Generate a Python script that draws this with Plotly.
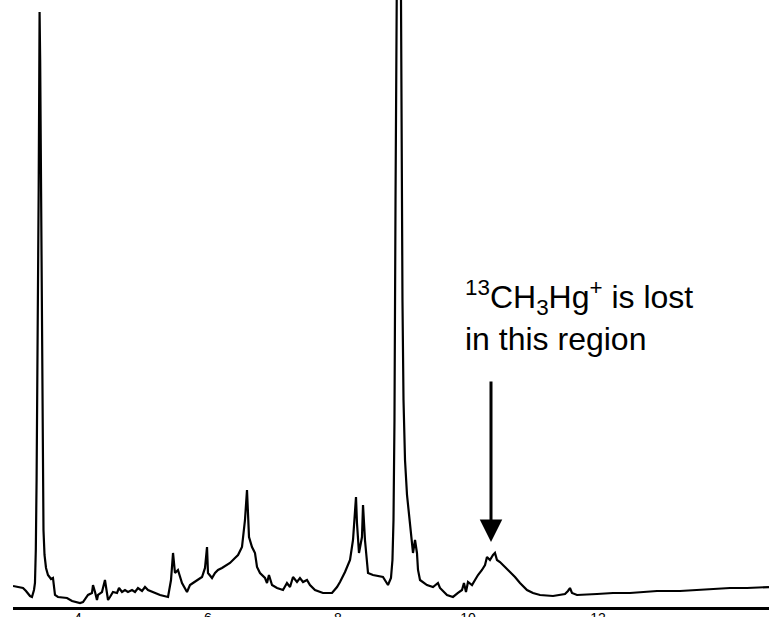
import plotly.graph_objects as go

# Retention time (min) and detector signal (arbitrary units) of the chromatogram
retention_time = [
    3.000, 3.077, 3.154, 3.200, 3.262, 3.292, 3.323, 3.338, 3.351, 3.363,
    3.375, 3.386, 3.395, 3.403, 3.409, 3.418, 3.428, 3.437, 3.446, 3.457,
    3.469, 3.485, 3.508, 3.538, 3.585, 3.615, 3.646, 3.692, 3.831, 3.908,
    4.031, 4.077, 4.123, 4.154, 4.215, 4.231, 4.262, 4.292, 4.308, 4.369,
    4.415, 4.431, 4.462, 4.492, 4.538, 4.600, 4.631, 4.677, 4.723, 4.769,
    4.831, 4.877, 4.923, 4.985, 5.031, 5.077, 5.154, 5.262, 5.385, 5.431,
    5.462, 5.492, 5.538, 5.600, 5.677, 5.723, 5.769, 5.846, 5.908, 5.954,
    5.985, 6.000, 6.062, 6.108, 6.154, 6.215, 6.292, 6.338, 6.415, 6.462,
    6.523, 6.538, 6.569, 6.600, 6.615, 6.631, 6.677, 6.723, 6.754, 6.800,
    6.877, 6.908, 6.938, 6.985, 7.062, 7.154, 7.215, 7.262, 7.308, 7.369,
    7.415, 7.462, 7.523, 7.569, 7.646, 7.769, 7.908, 7.985, 8.031, 8.108,
    8.185, 8.231, 8.277, 8.292, 8.323, 8.369, 8.385, 8.415, 8.462, 8.538,
    8.692, 8.769, 8.815, 8.838, 8.854, 8.869, 8.885, 8.900, 8.931, 8.962,
    8.977, 8.992, 9.008, 9.031, 9.062, 9.092, 9.123, 9.154, 9.185, 9.215,
    9.231, 9.262, 9.369, 9.462, 9.538, 9.569, 9.677, 9.769, 9.846, 9.908,
    9.938, 9.969, 10.000, 10.062, 10.108, 10.154, 10.215, 10.262, 10.292, 10.338,
    10.385, 10.415, 10.446, 10.492, 10.569, 10.646, 10.723, 10.800, 10.908, 11.000,
    11.108, 11.308, 11.492, 11.538, 11.569, 11.600, 11.677, 11.985, 12.231, 12.492,
    12.754, 12.908, 13.262, 13.523, 13.769, 14.031, 14.292, 14.631,
]

signal = [
    3.46, 3.29, 3.13, 2.64, 1.81, 1.65, 2.80, 3.95, 9.39, 20.92,
    35.75, 52.22, 68.70, 85.17, 98.02, 90.12, 71.99, 52.22, 34.10, 20.92,
    12.69, 8.57, 6.43, 5.27, 4.61, 4.78, 1.98, 1.65, 1.48, 0.99,
    0.66, 0.82, 1.48, 1.98, 2.31, 3.62, 2.47, 1.15, 1.98, 2.47,
    4.45, 3.13, 1.15, 1.65, 2.47, 2.31, 3.13, 2.47, 2.80, 2.47,
    2.80, 2.47, 3.13, 2.64, 3.29, 2.80, 2.47, 1.98, 1.65, 4.45,
    8.90, 5.60, 6.10, 3.95, 2.47, 3.62, 3.95, 4.45, 4.94, 6.43,
    9.88, 5.60, 4.78, 5.60, 6.10, 6.43, 6.92, 7.25, 8.07, 8.57,
    9.88, 11.53, 14.33, 19.28, 16.47, 11.53, 9.88, 8.90, 6.59, 5.60,
    4.78, 3.95, 5.27, 3.62, 3.13, 2.80, 3.95, 3.29, 4.94, 4.12,
    4.78, 4.12, 4.45, 3.62, 2.80, 2.31, 2.31, 3.29, 4.12, 5.77,
    7.74, 11.04, 18.12, 13.84, 8.90, 11.53, 16.80, 11.04, 5.60, 5.27,
    4.94, 3.62, 4.78, 7.74, 14.33, 30.81, 67.05, 116.47, 149.42, 116.47,
    75.29, 50.58, 34.10, 24.22, 18.45, 15.16, 11.86, 8.90, 11.04, 8.90,
    6.10, 4.45, 3.62, 3.29, 3.95, 3.13, 1.98, 1.65, 2.31, 2.80,
    3.95, 2.47, 4.12, 3.62, 4.45, 5.27, 6.10, 6.92, 8.24, 7.74,
    8.57, 8.90, 7.74, 7.41, 6.59, 5.77, 4.94, 3.95, 2.80, 2.31,
    1.98, 1.81, 2.14, 2.64, 3.13, 2.31, 1.98, 2.14, 2.31, 2.31,
    2.47, 2.64, 2.64, 2.80, 2.97, 3.13, 3.13, 3.29,
]

tick_values = [4, 6, 8, 10, 12, 14.48]
tick_labels = ["4", "6", "8", "10", "12", "min"]

x_range = [3.0, 14.631]
y_range = [0, 100]

# Region where the labelled methylmercury peak elutes
arrow_time = 10.354
arrow_signal = 10.71

label_font = dict(family="Liberation Sans, Arial, sans-serif", size=32, color="black")

fig = go.Figure()
fig.add_trace(go.Scatter(
    x=retention_time,
    y=signal,
    mode="lines",
    line=dict(color="black", width=2.2),
    hoverinfo="skip",
    showlegend=False,
))

fig.add_annotation(
    x=arrow_time, y=arrow_signal, xref="x", yref="y",
    text="", showarrow=True,
    ax=0, ay=-162, axref="pixel", ayref="pixel",
    arrowhead=2, arrowsize=1.5, arrowwidth=3, arrowcolor="black",
)
fig.add_annotation(
    x=9.923, y=55.1, xref="x", yref="y",
    text="<sup>13</sup>CH<sub>3</sub>Hg<sup>+</sup> is lost<br>in this region",
    showarrow=False, xanchor="left", yanchor="top", align="left",
    font=label_font,
)

fig.update_layout(
    width=769, height=617,
    margin=dict(l=13, r=0, t=0, b=10),
    paper_bgcolor="white", plot_bgcolor="white",
    xaxis=dict(
        range=x_range, showgrid=False, zeroline=False, automargin=False,
        showline=True, linecolor="black", linewidth=3,
        tickvals=tick_values, ticktext=tick_labels,
        ticks="", ticklabelstandoff=-4,
        tickfont=dict(family="Liberation Sans, Arial, sans-serif", size=14, color="black"),
    ),
    yaxis=dict(
        range=y_range, visible=False, showgrid=False, zeroline=False, automargin=False,
    ),
)

fig.write_html("out.html")
